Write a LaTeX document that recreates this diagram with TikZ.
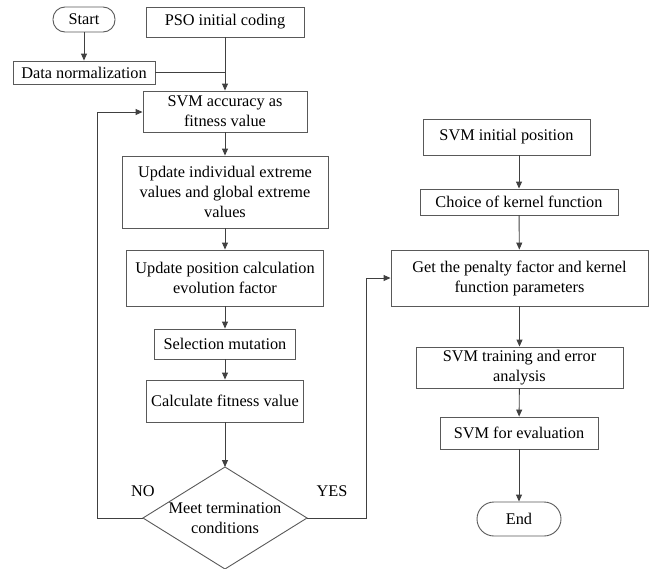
\documentclass[tikz,border=0pt]{standalone}
\usepackage{fontspec}
\setmainfont{Liberation Serif}
\usetikzlibrary{arrows.meta}
\begin{document}
\begin{tikzpicture}[x=1pt,y=-1pt,
  every node/.style={font=\fontsize{16.3}{20}\selectfont, text=black},
  box/.style={draw=black!65, line width=0.9pt, rectangle, inner sep=0pt, align=center},
  term/.style={box, rounded corners=12pt},
  conn/.style={draw=black!75, line width=0.9pt},
  arr/.style={conn, -{Triangle[length=7pt,width=6pt]}},
  lbl/.style={inner sep=0pt}]
\useasboundingbox (0,0) rectangle (656,568);
% left column
\node[term, minimum width=62, minimum height=25] (start) at (84,19.5) {Start};
\node[box, minimum width=158, minimum height=30] (pso) at (225,22) {PSO initial coding};
\node[box, minimum width=142, minimum height=23] (norm) at (84,72.5) {Data normalization};
\node[box, minimum width=164, minimum height=41] (acc) at (225,111.5) {SVM accuracy as\\fitness value};
\node[box, minimum width=206, minimum height=72] (upd1) at (225,192) {Update individual extreme\\values and global extreme\\values};
\node[box, minimum width=197, minimum height=56] (upd2) at (225,278) {Update position calculation\\evolution factor};
\node[box, minimum width=141, minimum height=30] (sel) at (225,344) {Selection mutation};
\node[box, minimum width=157, minimum height=42] (calc) at (225,401) {Calculate fitness value};
% diamond
\coordinate (dt) at (225,467);
\coordinate (dr) at (307,518);
\coordinate (db) at (225,569);
\coordinate (dl) at (143,518);
\draw[draw=black!65, line width=0.9pt] (dt) -- (dr) -- (db) -- (dl) -- cycle;
\node[lbl, align=center] (dia) at (225,518) {Meet termination\\conditions};
\node[lbl] (no) at (143,491) {NO};
\node[lbl] (yes) at (332,491) {YES};
% right column
\node[box, minimum width=167, minimum height=36] (init) at (506.5,137) {SVM initial position};
\node[box, minimum width=198, minimum height=26] (kern) at (519,202) {Choice of kernel function};
\node[box, minimum width=257, minimum height=56] (pen) at (519.5,278) {Get the penalty factor and kernel\\function parameters};
\node[box, minimum width=207, minimum height=41] (train) at (519.5,367.5) {SVM training and error\\analysis};
\node[box, minimum width=158, minimum height=32] (eval) at (519,433) {SVM for evaluation};
\node[term, minimum width=84, minimum height=34, rounded corners=17pt] (end) at (519,519) {End};
% joints
\coordinate (j1) at (pso.south |- norm.east);
\coordinate (lb) at (97,518);
\coordinate (lt) at (97,112);
\coordinate (rb) at (366,518);
\coordinate (rt) at (366,278);
% connectors
\draw[arr] (start) -- (norm);
\draw[arr] (pso) -- (acc);
\draw[conn] (norm.east) -- (j1);
\draw[arr] (acc) -- (upd1);
\draw[arr] (upd1) -- (upd2);
\draw[arr] (upd2) -- (sel);
\draw[arr] (sel) -- (calc);
\draw[arr] (calc) -- (dt);
\draw[arr] (dl) -- (lb) -- (lt) -- (acc.west |- lt);
\draw[arr] (dr) -- (rb) -- (rt) -- (pen.west);
\draw[arr] (kern.north |- init.south) -- (kern.north);
\draw[arr] (kern) -- (pen);
\draw[arr] (pen) -- (train);
\draw[arr] (train) -- (eval);
\draw[arr] (eval) -- (end);
\end{tikzpicture}
\end{document}
